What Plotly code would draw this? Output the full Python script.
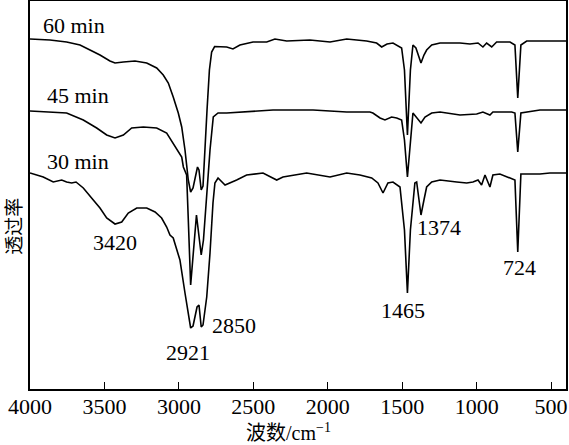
import plotly.graph_objects as go

# wavenumber (cm^-1) and transmittance (a.u.) for each spectrum
wn_60 = [4000, 3866, 3754, 3664, 3597, 3530, 3463, 3429, 3373, 3295, 3216, 3149, 3105, 3071, 3038, 3004,
         2981, 2959, 2937, 2921, 2905, 2892, 2875, 2865, 2850, 2838, 2825, 2811, 2795, 2780, 2760, 2679,
         2637, 2590, 2502, 2410, 2355, 2276, 2120, 1985, 1873, 1739, 1672, 1638, 1602, 1562, 1504, 1485,
         1465, 1445, 1428, 1408, 1374, 1354, 1336, 1302, 1246, 1112, 1045, 991, 958, 933, 899, 866, 776,
         743, 724, 703, 664, 400]
t_60 = [350, 349, 347, 344, 339, 334, 328, 326, 327, 328, 326, 321, 314, 306, 292, 276,
        262, 239, 209, 197, 201, 211, 222, 219, 199, 203, 234, 279, 319, 337, 342.5, 342,
        340, 344, 347, 347, 350, 348, 349, 347, 350, 348, 346, 342, 345, 346, 341, 319,
        254, 319, 344, 341, 326, 334, 339, 344, 346, 346, 345, 346, 342, 346, 342, 347, 347,
        344, 291, 344, 348, 348]

wn_45 = [4000, 3866, 3754, 3642, 3552, 3485, 3429, 3373, 3317, 3239, 3149, 3082, 3038, 2981, 2970, 2948,
         2937, 2921, 2882, 2850, 2835, 2813, 2791, 2769, 2737, 2679, 2570, 2368, 2099, 1873, 1717, 1697,
         1649, 1616, 1571, 1537, 1504, 1485, 1465, 1445, 1428, 1374, 1347, 1302, 1246, 1112, 1000, 958,
         911, 891, 765, 743, 724, 703, 575, 400]
t_45 = [278, 277, 276, 269, 261, 254, 251, 254, 261, 262, 261, 256, 246, 232, 222, 214,
        170, 104, 174, 134, 149, 196, 239, 272, 276, 276, 277, 279, 279, 277, 277, 276,
        271, 269, 272, 271, 269, 249, 212, 249, 276, 266, 272, 276, 277, 274, 275, 277,
        274, 277, 277, 276, 237, 276, 279, 279]

wn_30 = [4000, 3911, 3844, 3787, 3754, 3720, 3691, 3642, 3575, 3530, 3485, 3429, 3384, 3340, 3283, 3216,
         3160, 3116, 3082, 3060, 3038, 2993, 2959, 2926, 2921, 2905, 2878, 2865, 2850, 2838, 2813, 2791,
         2771, 2758, 2737, 2690, 2657, 2612, 2545, 2435, 2343, 2301, 2142, 1985, 1873, 1784, 1705, 1663,
         1629, 1596, 1562, 1515, 1485, 1465, 1445, 1415, 1403, 1374, 1354, 1336, 1302, 1246, 1134, 1067,
         1025, 991, 967, 944, 911, 891, 844, 776, 743, 724, 703, 575, 508, 400]
t_30 = [216, 212, 207, 209, 207, 206, 207, 201, 189, 181, 171, 165, 167, 176, 181, 181,
        177, 171, 162, 154, 151, 129, 96, 66, 61, 63, 82, 84, 62, 64, 92, 136,
        186, 206, 211, 204, 206, 209, 214, 216, 209, 212, 216, 212, 216, 214, 211, 206,
        196, 206, 207, 202, 159, 96, 159, 206, 207, 174, 189, 202, 207, 209, 207, 206,
        207, 209, 204, 214, 202, 214, 215, 211, 209, 137, 215, 215, 216, 216]

series_names = ["60 min", "45 min", "30 min"]
peak_labels = ["3420", "2921", "2850", "1465", "1374", "724"]
x_ticks = [4000, 3500, 3000, 2500, 2000, 1500, 1000, 500]

SERIF = "Liberation Serif"
CJK = "Noto Sans CJK SC"

fig = go.Figure()
for wn, t, name in zip([wn_60, wn_45, wn_30], [t_60, t_45, t_30], series_names):
    fig.add_trace(go.Scatter(x=wn, y=t, mode="lines", name=name,
                             line=dict(color="black", width=1.6), showlegend=False))

# curve labels
name_pos = [(3926, 364), (3899, 293.5), (3899, 227.5)]
for name, (ax, ay) in zip(series_names, name_pos):
    fig.add_annotation(x=ax, y=ay, text=name, showarrow=False, xanchor="left", yanchor="middle",
                       font=dict(family=SERIF, size=22, color="black"))

peak_pos = [(3426, 147), (2936, 37), (2633, 63.5), (1495, 79), (1253, 161.5), (709, 121.5)]
for lab, (ax, ay) in zip(peak_labels, peak_pos):
    fig.add_annotation(x=ax, y=ay, text=lab, showarrow=False, xanchor="center", yanchor="middle",
                       font=dict(family=SERIF, size=22, color="black"))

# axis titles
fig.add_annotation(xref="paper", yref="paper", x=0.483, y=-0.11,
                   text="<span style='font-family:Noto Sans CJK SC'>波数</span>/cm<sup>−1</sup>",
                   showarrow=False, xanchor="center", yanchor="middle",
                   font=dict(family=SERIF, size=20, color="black"))
fig.add_annotation(xref="paper", yref="paper", x=-0.034, y=0.42, text="透过率", textangle=-90,
                   showarrow=False, xanchor="center", yanchor="middle",
                   font=dict(family=CJK, size=19, color="black"))

fig.update_xaxes(range=[4000, 400], tickvals=x_ticks, ticktext=[str(v) for v in x_ticks],
                 ticks="inside", ticklen=7, tickwidth=1.2, tickcolor="black",
                 showline=True, linecolor="black", linewidth=1.5, mirror=True,
                 showgrid=False, zeroline=False, automargin=False, ticklabelstandoff=-3,
                 tickfont=dict(family=SERIF, size=22, color="black"))
fig.update_yaxes(range=[0, 388], showticklabels=False, ticks="",
                 showline=True, linecolor="black", linewidth=1.5, mirror=True,
                 showgrid=False, zeroline=False, automargin=False)
fig.update_layout(width=569, height=445, margin=dict(l=30, r=3, t=1, b=56, autoexpand=False),
                  plot_bgcolor="white", paper_bgcolor="white")
fig.write_html("out.html", config={"displayModeBar": False},
               post_script="document.body.style.margin='0';document.body.style.overflow='hidden';")
